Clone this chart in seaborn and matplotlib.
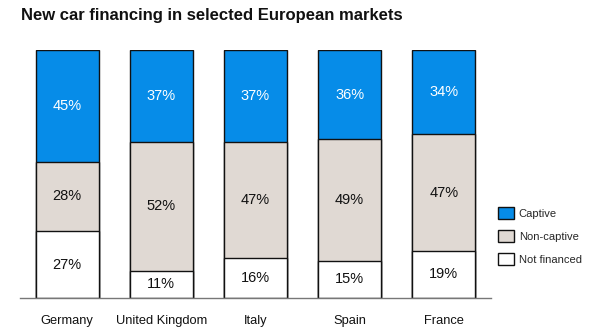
import matplotlib
matplotlib.use("Agg")
import matplotlib.pyplot as plt
import seaborn as sns
import pandas as pd
from matplotlib.patches import Patch

countries = ["Germany", "United Kingdom", "Italy", "Spain", "France"]
captive = [45, 37, 37, 36, 34]
non_captive = [28, 52, 47, 49, 47]
not_financed = [27, 11, 16, 15, 19]

c_blue = "#068CE8"
c_beige = "#E0D9D3"
c_white = "#FFFFFF"

sns.set_theme(style="white")
plt.rcParams["font.family"] = ["Liberation Sans", "DejaVu Sans"]

df = pd.DataFrame({"country": countries, "captive": captive,
                   "non_captive": non_captive, "not_financed": not_financed})
df["top"] = df["captive"] + df["non_captive"] + df["not_financed"]
df["mid"] = df["non_captive"] + df["not_financed"]

fig = plt.figure(figsize=(6, 3.35), dpi=100)
ax = fig.add_axes([0.0333, 0.1104, 0.785, 0.740])

w = 0.67
for col, color in [("top", c_blue), ("mid", c_beige), ("not_financed", c_white)]:
    sns.barplot(data=df, x="country", y=col, color=color, width=w,
                edgecolor="#111111", linewidth=1.0, saturation=1, ax=ax)

for i in range(len(countries)):
    nf = not_financed[i]
    nc = non_captive[i]
    cp = captive[i]
    ax.text(i, nf / 2, f"{nf}%", ha="center", va="center", fontsize=10.5, color="#111111")
    ax.text(i, nf + nc / 2, f"{nc}%", ha="center", va="center", fontsize=10.5, color="#111111")
    ax.text(i, nf + nc + cp / 2, f"{cp}%", ha="center", va="center", fontsize=10.5, color="white")

ax.set_xlim(-0.5, 4.5)
ax.set_ylim(0, 100)
ax.set_xlabel("")
ax.set_ylabel("")
ax.set_yticks([])
ax.tick_params(axis="x", length=0, pad=12, labelsize=9.3, labelcolor="#111111")
for s in ["top", "right", "left"]:
    ax.spines[s].set_visible(False)
ax.spines["bottom"].set_color("#777777")
ax.spines["bottom"].set_linewidth(1.0)

fig.text(0.035, 0.955, "New car financing in selected European markets",
         fontsize=12, fontweight="bold", color="#111111", va="center", ha="left")

handles = [Patch(facecolor=c, edgecolor="#111111", linewidth=1.0) for c in [c_blue, c_beige, c_white]]
fig.legend(handles, ["Captive", "Non-captive", "Not financed"],
           loc="upper left", bbox_to_anchor=(0.822, 0.395), frameon=False,
           fontsize=8.0, handlelength=1.5, handleheight=1.2, labelspacing=1.05,
           handletextpad=0.4, borderaxespad=0)

fig.savefig("out.png", dpi=100)
